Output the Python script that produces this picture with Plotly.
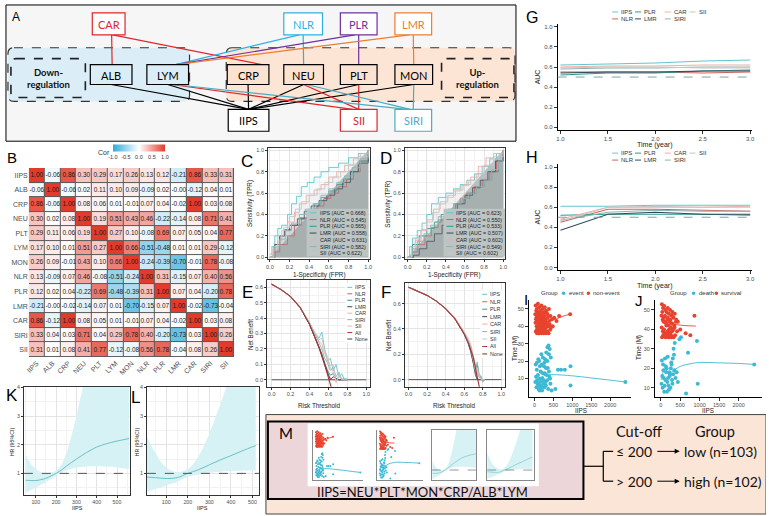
import plotly.graph_objects as go

W, H = 769, 516
FONT = "Liberation Sans"
DFONT = "Lato"

# ---------------- data ----------------
markers = ["IIPS", "ALB", "CRP", "NEU", "PLT", "LYM", "MON", "NLR", "PLR", "LMR", "CAR", "SIRI", "SII"]
cor = [
    [1.00, -0.06, 0.86, 0.30, 0.29, 0.17, 0.26, 0.13, 0.12, -0.21, 0.86, 0.33, 0.31],
    [-0.06, 1.00, -0.06, 0.02, 0.11, 0.10, 0.09, -0.09, 0.02, -0.00, -0.12, 0.04, 0.01],
    [0.86, -0.06, 1.00, 0.08, 0.06, 0.01, -0.01, 0.07, 0.04, -0.02, 1.00, 0.03, 0.08],
    [0.30, 0.02, 0.08, 1.00, 0.19, 0.51, 0.43, 0.46, -0.22, -0.14, 0.08, 0.71, 0.41],
    [0.29, 0.11, 0.06, 0.19, 1.00, 0.27, 0.10, -0.08, 0.69, 0.07, 0.05, 0.04, 0.77],
    [0.17, 0.10, 0.01, 0.51, 0.27, 1.00, 0.66, -0.51, -0.48, 0.01, 0.01, 0.29, -0.12],
    [0.26, 0.09, -0.01, 0.43, 0.10, 0.66, 1.00, -0.24, -0.39, -0.70, -0.01, 0.78, -0.08],
    [0.13, -0.09, 0.07, 0.46, -0.08, -0.51, -0.24, 1.00, 0.31, -0.15, 0.07, 0.40, 0.56],
    [0.12, 0.02, 0.04, -0.22, 0.69, -0.48, -0.39, 0.31, 1.00, 0.07, 0.04, -0.20, 0.78],
    [-0.21, -0.00, -0.02, -0.14, 0.07, 0.01, -0.70, -0.15, 0.07, 1.00, -0.02, -0.73, -0.04],
    [0.86, -0.12, 1.00, 0.08, 0.05, 0.01, -0.01, 0.07, 0.04, -0.02, 1.00, 0.03, 0.08],
    [0.33, 0.04, 0.03, 0.71, 0.04, 0.29, 0.78, 0.40, -0.20, -0.73, 0.03, 1.00, 0.26],
    [0.31, 0.01, 0.08, 0.41, 0.77, -0.12, -0.08, 0.56, 0.78, -0.04, 0.08, 0.26, 1.00],
]

models = ["IIPS", "NLR", "PLR", "LMR", "CAR", "SIRI", "SII"]
model_colors = ["#63c6cf", "#d25f5f", "#2b9a8c", "#34495a", "#f0aea5", "#8db4b1", "#c6c6c6"]
auc_c = ["0.668", "0.545", "0.565", "0.558", "0.631", "0.582", "0.622"]
auc_d = ["0.623", "0.550", "0.533", "0.507", "0.602", "0.549", "0.602"]

roc_c_fpr = [
    [0, 0.02, 0.05, 0.08, 0.12, 0.18, 0.22, 0.27, 0.32, 0.38, 0.45, 0.52, 0.6, 0.7, 0.8, 0.9, 1],
    [0, 0.05, 0.1, 0.18, 0.25, 0.32, 0.4, 0.48, 0.55, 0.62, 0.7, 0.78, 0.85, 0.92, 1],
    [0, 0.04, 0.1, 0.15, 0.22, 0.3, 0.38, 0.45, 0.52, 0.6, 0.68, 0.75, 0.82, 0.9, 1],
    [0, 0.05, 0.1, 0.15, 0.2, 0.28, 0.35, 0.42, 0.5, 0.58, 0.66, 0.74, 0.82, 0.9, 1],
    [0, 0.03, 0.08, 0.12, 0.18, 0.25, 0.3, 0.37, 0.45, 0.52, 0.6, 0.68, 0.76, 0.85, 0.92, 1],
    [0, 0.05, 0.1, 0.16, 0.22, 0.3, 0.36, 0.44, 0.52, 0.6, 0.68, 0.76, 0.84, 0.92, 1],
    [0, 0.04, 0.08, 0.14, 0.2, 0.26, 0.32, 0.4, 0.48, 0.56, 0.64, 0.72, 0.8, 0.9, 1],
]
roc_c_tpr = [
    [0.03, 0.1, 0.2, 0.27, 0.3, 0.4, 0.5, 0.57, 0.66, 0.7, 0.75, 0.8, 0.84, 0.88, 0.93, 0.97, 1],
    [0, 0.05, 0.12, 0.2, 0.3, 0.36, 0.42, 0.48, 0.55, 0.6, 0.66, 0.73, 0.8, 0.9, 1],
    [0, 0.1, 0.2, 0.26, 0.3, 0.37, 0.44, 0.5, 0.56, 0.62, 0.68, 0.73, 0.8, 0.9, 1],
    [0, 0.12, 0.2, 0.25, 0.3, 0.36, 0.43, 0.48, 0.53, 0.58, 0.64, 0.7, 0.8, 0.88, 1],
    [0, 0.08, 0.15, 0.25, 0.33, 0.42, 0.5, 0.58, 0.63, 0.68, 0.75, 0.8, 0.86, 0.92, 0.97, 1],
    [0, 0.1, 0.17, 0.25, 0.32, 0.4, 0.45, 0.5, 0.58, 0.64, 0.7, 0.76, 0.84, 0.92, 1],
    [0, 0.1, 0.2, 0.28, 0.38, 0.45, 0.52, 0.58, 0.64, 0.7, 0.75, 0.8, 0.87, 0.94, 1],
]
roc_d_fpr = [
    [0, 0.02, 0.05, 0.1, 0.15, 0.2, 0.25, 0.32, 0.4, 0.48, 0.55, 0.62, 0.7, 0.78, 0.86, 0.93, 1],
    [0, 0.05, 0.1, 0.18, 0.25, 0.32, 0.4, 0.48, 0.55, 0.62, 0.7, 0.78, 0.86, 0.93, 1],
    [0, 0.05, 0.12, 0.2, 0.28, 0.35, 0.42, 0.5, 0.58, 0.65, 0.72, 0.8, 0.88, 0.95, 1],
    [0, 0.06, 0.12, 0.2, 0.28, 0.36, 0.44, 0.52, 0.6, 0.68, 0.76, 0.84, 0.92, 1],
    [0, 0.04, 0.08, 0.14, 0.2, 0.27, 0.34, 0.42, 0.5, 0.58, 0.66, 0.74, 0.82, 0.9, 1],
    [0, 0.05, 0.1, 0.17, 0.24, 0.32, 0.4, 0.48, 0.56, 0.64, 0.72, 0.8, 0.88, 0.95, 1],
    [0, 0.04, 0.08, 0.14, 0.2, 0.26, 0.33, 0.4, 0.48, 0.56, 0.64, 0.72, 0.8, 0.9, 1],
]
roc_d_tpr = [
    [0, 0.1, 0.18, 0.25, 0.32, 0.4, 0.5, 0.56, 0.6, 0.64, 0.68, 0.72, 0.78, 0.85, 0.92, 0.97, 1],
    [0, 0.05, 0.12, 0.2, 0.28, 0.35, 0.42, 0.5, 0.55, 0.6, 0.66, 0.72, 0.8, 0.9, 1],
    [0, 0.12, 0.2, 0.27, 0.33, 0.4, 0.45, 0.5, 0.55, 0.6, 0.66, 0.72, 0.8, 0.9, 1],
    [0, 0.02, 0.08, 0.15, 0.22, 0.3, 0.4, 0.5, 0.58, 0.65, 0.72, 0.8, 0.9, 1],
    [0, 0.08, 0.16, 0.25, 0.35, 0.45, 0.52, 0.58, 0.63, 0.68, 0.75, 0.85, 0.93, 0.97, 1],
    [0, 0.08, 0.15, 0.22, 0.3, 0.38, 0.44, 0.5, 0.55, 0.6, 0.66, 0.72, 0.82, 0.9, 1],
    [0, 0.1, 0.18, 0.26, 0.33, 0.42, 0.5, 0.56, 0.62, 0.67, 0.72, 0.78, 0.86, 0.94, 1],
]
diag = [0, 1]

# decision curves
e_t = [0, 0.1, 0.2, 0.3, 0.4, 0.45, 0.5, 0.53, 0.56, 0.59, 0.62, 0.65, 0.68, 0.71, 0.74, 0.77, 0.8]
e_nb = [
    [0.62, 0.585, 0.54, 0.47, 0.37, 0.31, 0.27, 0.31, 0.20, 0.12, 0.14, 0.06, 0.10, 0.02, 0.04, 0.00, 0.01],
    [0.62, 0.585, 0.54, 0.47, 0.36, 0.29, 0.21, 0.15, 0.09, 0.04, 0.01, 0.00, 0.00, 0.00, 0.00, 0.00, 0.00],
    [0.62, 0.585, 0.54, 0.47, 0.36, 0.29, 0.22, 0.17, 0.11, 0.06, 0.03, 0.04, 0.01, 0.00, 0.00, 0.00, 0.00],
    [0.62, 0.585, 0.54, 0.47, 0.36, 0.29, 0.21, 0.16, 0.10, 0.05, 0.00, 0.02, 0.01, 0.00, 0.00, 0.00, 0.00],
    [0.62, 0.585, 0.54, 0.47, 0.37, 0.31, 0.25, 0.23, 0.17, 0.13, 0.08, 0.05, -0.01, 0.02, 0.01, 0.00, 0.00],
    [0.62, 0.585, 0.54, 0.47, 0.37, 0.30, 0.24, 0.20, 0.14, 0.11, 0.06, 0.08, 0.02, 0.05, 0.00, 0.01, 0.00],
    [0.62, 0.585, 0.54, 0.47, 0.37, 0.31, 0.26, 0.27, 0.19, 0.15, 0.09, 0.10, -0.02, 0.03, 0.00, 0.00, 0.00],
]
e_all_t = [0, 0.1, 0.2, 0.3, 0.4, 0.45, 0.5, 0.55, 0.6, 0.63]
e_all_nb = [0.62, 0.585, 0.54, 0.47, 0.36, 0.29, 0.21, 0.12, 0.02, -0.05]

f_t = [0, 0.1, 0.2, 0.3, 0.4, 0.5, 0.6, 0.64, 0.67, 0.7, 0.72, 0.74, 0.76, 0.78, 0.8, 0.82]
f_nb = [
    [0.73, 0.70, 0.665, 0.62, 0.56, 0.48, 0.37, 0.31, 0.26, 0.16, 0.10, 0.06, 0.02, 0.03, -0.01, 0.00],
    [0.73, 0.70, 0.665, 0.62, 0.56, 0.48, 0.36, 0.30, 0.23, 0.13, 0.06, 0.01, 0.00, 0.00, 0.00, 0.00],
    [0.73, 0.70, 0.665, 0.62, 0.56, 0.48, 0.36, 0.30, 0.24, 0.15, 0.08, 0.12, 0.03, 0.01, 0.00, 0.00],
    [0.73, 0.70, 0.665, 0.62, 0.56, 0.48, 0.36, 0.29, 0.22, 0.12, 0.04, 0.00, 0.00, 0.00, 0.00, 0.00],
    [0.73, 0.70, 0.665, 0.62, 0.56, 0.49, 0.38, 0.33, 0.28, 0.19, 0.12, 0.05, 0.02, 0.00, 0.00, 0.00],
    [0.73, 0.70, 0.665, 0.62, 0.56, 0.48, 0.37, 0.31, 0.25, 0.16, 0.09, 0.14, 0.05, 0.02, -0.02, 0.00],
    [0.73, 0.70, 0.665, 0.62, 0.56, 0.48, 0.37, 0.30, 0.25, 0.15, 0.07, 0.09, 0.03, 0.01, 0.00, 0.00],
]
f_all_t = [0, 0.1, 0.2, 0.3, 0.4, 0.5, 0.6, 0.65, 0.7, 0.74, 0.77]
f_all_nb = [0.73, 0.70, 0.665, 0.62, 0.56, 0.48, 0.36, 0.28, 0.17, 0.02, -0.08]
none_t = [0.0, 1.0]
none_nb = [0.0, 0.0]
all_color, none_color = "#a83232", "#444444"

# time-dependent AUC
years = [1.0, 1.5, 2.0, 2.5, 3.0]
g_auc = [
    [0.62, 0.63, 0.64, 0.66, 0.67],
    [0.55, 0.55, 0.55, 0.54, 0.55],
    [0.52, 0.54, 0.54, 0.56, 0.57],
    [0.54, 0.55, 0.55, 0.56, 0.56],
    [0.60, 0.61, 0.61, 0.62, 0.62],
    [0.58, 0.59, 0.59, 0.60, 0.60],
    [0.59, 0.60, 0.60, 0.59, 0.59],
]
h_auc = [
    [0.61, 0.61, 0.62, 0.62, 0.62],
    [0.45, 0.58, 0.58, 0.57, 0.56],
    [0.52, 0.53, 0.53, 0.53, 0.52],
    [0.37, 0.53, 0.55, 0.53, 0.53],
    [0.48, 0.60, 0.60, 0.60, 0.61],
    [0.47, 0.55, 0.57, 0.56, 0.56],
    [0.46, 0.60, 0.61, 0.60, 0.60],
]

# scatter of IIPS vs follow-up time
i_nonevent_x = [30, 60, 90, 120, 150, 180, 210, 240, 270, 300, 340, 380, 420, 460, 520, 580, 650, 940,
                20, 50, 80, 110, 140, 170, 200, 230, 260, 290, 320, 350, 390,
                25, 55, 85, 115, 145, 175, 205, 235, 265, 295, 330, 360, 410,
                35, 65, 95, 125, 155, 185, 215, 245, 275, 305,
                40, 70, 100, 130, 160, 190, 220, 250, 280, 310,
                45, 75, 105, 135, 165, 195, 225, 255, 285, 315, 345, 370, 400, 430, 480, 60, 100, 140, 180]
i_nonevent_y = [52, 50, 53, 51, 49, 52, 50, 48, 51, 49, 47, 50, 46, 44, 45, 43, 46, 47,
                47, 45, 48, 46, 44, 47, 45, 43, 46, 44, 42, 45, 43,
                42, 40, 43, 41, 39, 42, 40, 38, 41, 39, 37, 40, 38,
                37, 36, 38, 36, 37, 36, 37, 36, 38, 36,
                44, 42, 40, 38, 45, 43, 41, 39, 42, 40,
                49, 47, 44, 48, 42, 38, 46, 44, 37, 48, 41, 36, 41, 39, 40, 38, 36, 41, 39]
i_event_x = [30, 60, 90, 120, 150, 180, 210, 240, 270, 300, 330, 360, 390, 420, 450,
             20, 50, 80, 110, 140, 170, 200, 230, 260, 290, 320, 350, 380, 410,
             40, 70, 100, 130, 160, 190, 220, 250, 280, 310, 340, 370, 400, 430,
             60, 100, 140, 180, 220, 260, 300, 340, 380,
             550, 620, 700, 800, 950, 950, 2400]
i_event_y = [18, 15, 12, 20, 8, 5, 10, 7, 13, 6, 9, 4, 11, 7, 3,
             8, 5, 7, 4, 10, 6, 3, 9, 5, 8, 12, 16, 14, 10,
             11, 9, 6, 3, 14, 18, 22, 17, 21, 25, 28, 29, 27, 22,
             19, 21, 17, 24, 13, 19, 16, 20, 24,
             4, 15, 15, 15, 6, 17, 8]
i_nonevent_fit_x = [30, 150, 300, 450, 600, 750, 940]
i_nonevent_fit_y = [45, 44, 43, 43.5, 44.5, 45.8, 47]
i_event_fit_x = [20, 100, 200, 300, 500, 1000, 1500, 2000, 2400]
i_event_fit_y = [9, 10, 11, 12, 12.2, 11.5, 10.3, 9, 8]

j_survival_x = [30, 60, 90, 120, 150, 180, 210, 240, 270, 300, 330, 360, 400, 440, 500, 640, 760, 865,
                20, 50, 80, 110, 140, 170, 200, 230, 260, 290, 320, 350,
                25, 55, 85, 115, 145, 175, 205, 235, 265, 295, 330, 370,
                35, 65, 95, 125, 155, 185, 215, 245, 275,
                40, 75, 110, 145, 180, 215, 250, 285, 320, 355, 390, 420]
j_survival_y = [53, 51, 52, 50, 49, 51, 48, 50, 47, 49, 46, 48, 45, 44, 40, 38, 37, 47,
                47, 45, 46, 44, 43, 45, 42, 44, 41, 43, 40, 42,
                41, 39, 40, 38, 37, 39, 36, 38, 37, 39, 36, 37,
                36, 37, 38, 36, 37, 38, 36, 37, 36,
                49, 44, 47, 42, 46, 40, 45, 43, 48, 41, 44, 39]
j_death_x = [20, 50, 80, 110, 140, 170, 200, 230, 260, 290, 320, 350, 380, 410, 440,
             30, 60, 90, 120, 150, 180, 210, 240, 270, 300, 330, 360,
             40, 70, 100, 130, 160, 190, 220, 250, 280, 310, 340,
             480, 520, 650, 700, 930, 950, 2400]
j_death_y = [12, 10, 15, 25, 18, 13, 11, 16, 20, 14, 17, 19, 15, 18, 13,
             24, 22, 8, 14, 20, 26, 9, 17, 23, 12, 30, 33,
             16, 19, 11, 21, 8, 15, 18, 10, 22, 25, 27,
             35, 36, 7, 28, 34, 12, 22]
j_survival_fit_x = [20, 200, 400, 600, 800, 900]
j_survival_fit_y = [45, 43.5, 42.5, 42, 41.8, 41.7]
j_death_fit_x = [10, 60, 120, 200, 300, 500, 800, 1000, 1500, 2000, 2400]
j_death_fit_y = [14, 18, 20, 17, 18.5, 21, 22.5, 23, 22.8, 22.5, 22]
iips_ticks = [0, 500, 1000, 1500, 2000]
time_ticks = [10, 20, 30, 40, 50]
red_pt, cyan_pt = "#e8432e", "#3dbad3"

# restricted cubic spline HR
k_x = [50, 75, 100, 125, 150, 175, 200, 225, 250, 275, 300, 325, 350, 375, 400, 450, 500, 560]
k_hr = [0.76, 0.75, 0.75, 0.78, 0.83, 0.91, 1.0, 1.11, 1.25, 1.38, 1.5, 1.62, 1.73, 1.83, 1.92, 2.04, 2.13, 2.22]
k_lo = [0.32, 0.42, 0.5, 0.6, 0.7, 0.8, 0.92, 1.02, 1.1, 1.16, 1.2, 1.22, 1.24, 1.25, 1.25, 1.24, 1.21, 1.15]
k_hi = [1.65, 1.35, 1.15, 1.05, 1.0, 1.03, 1.1, 1.3, 1.7, 2.3, 3.0, 3.8, 4.5, 5.2, 5.8, 6.6, 7.3, 8.0]
l_x = [10, 50, 100, 150, 200, 250, 300, 350, 400, 450, 500, 515]
l_hr = [0.87, 0.85, 0.82, 0.85, 1.0, 1.13, 1.3, 1.47, 1.62, 1.78, 1.93, 1.97]
l_lo = [0.35, 0.45, 0.58, 0.7, 0.88, 0.96, 1.02, 1.06, 1.08, 1.1, 1.1, 1.1]
l_hi = [2.3, 1.7, 1.2, 1.05, 1.15, 1.6, 2.4, 3.4, 4.5, 5.5, 6.5, 7.0]
hr_line, hr_band = "#6cbfc6", "#d6f2f5"

fig = go.Figure()


def xdom(a, b):
    return [a / W, b / W]


def ydom(top, bottom):
    return [1 - bottom / H, 1 - top / H]


def rgba(hexc, a):
    h = hexc.lstrip("#")
    return f"rgba({int(h[0:2], 16)},{int(h[2:4], 16)},{int(h[4:6], 16)},{a})"


def text(s, x, y, size=7, color="#222222", angle=0, anchor="center", family=FONT):
    fig.add_annotation(x=x, y=y, xref="x", yref="y", text=s, showarrow=False, textangle=angle,
                       xanchor=anchor, yanchor="middle", borderpad=0,
                       font=dict(size=size, color=color, family=family))


def line(x0, y0, x1, y1, color="#000000", width=1.0, dash=None, layer="above"):
    fig.add_shape(type="line", xref="x", yref="y", x0=x0, y0=y0, x1=x1, y1=y1,
                  line=dict(color=color, width=width, dash=dash), layer=layer)


def rect(x0, y0, x1, y1, fill="rgba(0,0,0,0)", color="#000000", width=1.0, dash=None, layer="above"):
    fig.add_shape(type="rect", xref="x", yref="y", x0=x0, y0=y0, x1=x1, y1=y1, fillcolor=fill,
                  line=dict(color=color, width=width, dash=dash), layer=layer)


def rrect(x0, y0, x1, y1, r, fill, color, width=1.2, dash="dash"):
    p = (f"M {x0 + r},{y0} L {x1 - r},{y0} Q {x1},{y0} {x1},{y0 + r} L {x1},{y1 - r} "
         f"Q {x1},{y1} {x1 - r},{y1} L {x0 + r},{y1} Q {x0},{y1} {x0},{y1 - r} "
         f"L {x0},{y0 + r} Q {x0},{y0} {x0 + r},{y0} Z")
    fig.add_shape(type="path", xref="x", yref="y", path=p, fillcolor=fill,
                  line=dict(color=color, width=width, dash=dash))


def set_axes(n, xd, yd, xr, yr, style="bw", xdt=None, ydt=None, xfmt=None, yfmt=None,
             tsize=6, xvals=None, yvals=None):
    common = dict(fixedrange=True, zeroline=False, ticks="outside", ticklen=2, tickcolor="#333333",
                  tickfont=dict(size=tsize, color="#4d4d4d", family=FONT), showline=True,
                  linewidth=0.7)
    if style == "bw":
        common.update(showgrid=True, gridcolor="#e4e4e4", gridwidth=0.6, mirror=True, linecolor="#333333")
    elif style == "classic":
        common.update(showgrid=False, linecolor="#000000", mirror=False, ticklen=3)
    else:
        common = dict(fixedrange=True, zeroline=False, showgrid=False, showticklabels=False, ticks="",
                      showline=True, linecolor="#888888", linewidth=0.5, mirror=(style == "thumbbox"))
    xa = dict(common, domain=xd, range=xr, anchor=f"y{n}")
    ya = dict(common, domain=yd, range=yr, anchor=f"x{n}")
    if xdt:
        xa["dtick"] = xdt
        if style == "bw":
            xa["minor"] = dict(showgrid=True, gridcolor="#f2f2f2", gridwidth=0.5, dtick=xdt / 2)
    if ydt:
        ya["dtick"] = ydt
        if style == "bw":
            ya["minor"] = dict(showgrid=True, gridcolor="#f2f2f2", gridwidth=0.5, dtick=ydt / 2)
    if xfmt:
        xa["tickformat"] = xfmt
    if yfmt:
        ya["tickformat"] = yfmt
    if xvals:
        xa["tickvals"] = xvals
    if yvals:
        ya["tickvals"] = yvals
    fig.update_layout(**{f"xaxis{n}": xa, f"yaxis{n}": ya})


def on(n):
    return dict(xaxis=f"x{n}", yaxis=f"y{n}", showlegend=False, hoverinfo="skip")


# overlay axes in pixel units (for diagram, labels, hand-made legends)
fig.add_trace(go.Scatter(x=[], y=[], xaxis="x", yaxis="y", showlegend=False))
fig.update_layout(xaxis=dict(domain=[0, 1], range=[0, W], visible=False, fixedrange=True),
                  yaxis=dict(domain=[0, 1], range=[H, 0], visible=False, fixedrange=True))

# ---------------- A: diagram ----------------
rect(3, 3, 517, 140, fill="#f6f6f6", color="#000000", width=1)
rrect(5, 46, 188, 100, 6, "#dbeef8", "#333333")
rrect(225, 46, 516, 100, 6, "#fde5d5", "#333333")
rrect(8, 57, 83, 96, 5, "rgba(0,0,0,0)", "#222222", width=1.6)
rrect(442, 57, 515, 96, 5, "rgba(0,0,0,0)", "#222222", width=1.6)

nodes = {
    "CAR": (90, 11, 123, 33, "#e0262b", "#ffffff"),
    "NLR": (283, 11, 322, 33, "#2bb2e3", "#ffffff"),
    "PLR": (340, 11, 377, 33, "#7030a0", "#ffffff"),
    "LMR": (395, 11, 432, 33, "#ed7d31", "#ffffff"),
    "ALB": (88, 63, 130, 83, "#000000", "#dbeef8"),
    "LYM": (145, 63, 187, 83, "#000000", "#dbeef8"),
    "CRP": (226, 63, 268, 83, "#000000", "#fce2d1"),
    "NEU": (283, 63, 323, 83, "#000000", "#fce2d1"),
    "PLT": (340, 63, 377, 83, "#000000", "#fce2d1"),
    "MON": (395, 63, 433, 83, "#000000", "#fce2d1"),
    "IIPS": (227, 108, 268, 130, "#000000", "#ffffff"),
    "SII": (340, 108, 377, 130, "#e0262b", "#ffffff"),
    "SIRI": (395, 108, 432, 130, "#4aacc6", "#ffffff"),
}


def top(n, dx=0):
    b = nodes[n]
    return ((b[0] + b[2]) / 2 + dx, b[1])


def bot(n, dx=0):
    b = nodes[n]
    return ((b[0] + b[2]) / 2 + dx, b[3])


edges = [
    (bot("CAR", 3), top("ALB", 1), "#e0262b"),
    (bot("CAR", 4), top("CRP", 14), "#e0262b"),
    (bot("NLR"), top("NEU"), "#2bb2e3"),
    (bot("NLR", -4), top("LYM", 8), "#2bb2e3"),
    (bot("PLR"), top("PLT"), "#7030a0"),
    (bot("PLR", -4), top("LYM", 8), "#7030a0"),
    (bot("LMR"), top("MON"), "#ed7d31"),
    (bot("LMR", -4), top("LYM", 8), "#ed7d31"),
    (bot("ALB"), top("IIPS"), "#000000"),
    (bot("LYM"), top("IIPS"), "#000000"),
    (bot("CRP"), top("IIPS"), "#000000"),
    (bot("NEU"), top("IIPS"), "#000000"),
    (bot("PLT"), top("IIPS"), "#000000"),
    (bot("MON"), top("IIPS"), "#000000"),
    (bot("LYM", 4), top("SII", -6), "#e0262b"),
    (bot("NEU"), top("SII"), "#e0262b"),
    (bot("PLT"), top("SII"), "#e0262b"),
    (bot("LYM", 6), top("SIRI", -6), "#4aacc6"),
    (bot("NEU", 3), top("SIRI", -3), "#4aacc6"),
    (bot("MON"), top("SIRI"), "#4aacc6"),
]
for (a, b, c) in edges:
    line(a[0], a[1], b[0], b[1], color=c, width=1.2)
for name, (x0, y0, x1, y1, c, f) in nodes.items():
    rect(x0, y0, x1, y1, fill=f, color=c, width=1.2)
    text(name, (x0 + x1) / 2, (y0 + y1) / 2 + 0.5, size=11, color=c, family=DFONT)
text("<b>Down-<br>regulation</b>", 45.5, 76.5, size=9.5, color="#111111", family=DFONT)
text("<b>Up-<br>regulation</b>", 478.5, 76.5, size=9.5, color="#111111", family=DFONT)
text("A", 13, 15, size=12, color="#000000")

# ---------------- B: correlation heatmap ----------------
idx = list(range(len(markers)))
fig.add_shape(type="rect", xref="x2", yref="y2", x0=-0.5, x1=12.5, y0=-0.5, y1=12.5,
              fillcolor="#5a5a5a", line=dict(width=0), layer="below")
fig.add_trace(go.Heatmap(
    z=cor, x=idx, y=idx, text=[[f"{v:.2f}" for v in row] for row in cor], texttemplate="%{text}",
    textfont=dict(size=6.5, color="#1a1a1a", family=FONT),
    colorscale=[[0, "#2eaad8"], [0.5, "#ffffff"], [1, "#e33b2b"]], zmin=-1, zmax=1,
    xgap=1, ygap=1, xaxis="x2", yaxis="y2", hoverinfo="skip",
    colorbar=dict(orientation="h", x=137 / W, xanchor="center", y=1 - 150 / H, yanchor="middle",
                  len=52, lenmode="pixels", thickness=7, outlinewidth=0, xpad=0, ypad=0,
                  tickvals=[-1, -0.5, 0, 0.5, 1], ticktext=["-1.0", "-0.5", "0.0", "0.5", "1.0"],
                  tickangle=0, tickfont=dict(size=5.5, color="#333333", family=FONT), ticks="")))
heat_ax = dict(tickvals=idx, ticktext=markers, showgrid=False, zeroline=False, showline=False, ticks="",
               tickfont=dict(size=7, color="#4d4d4d", family=FONT), fixedrange=True)
fig.update_layout(xaxis2=dict(heat_ax, domain=xdom(26, 233), range=[-0.5, 12.5], anchor="y2", tickangle=-45),
                  yaxis2=dict(heat_ax, domain=ydom(167, 357), range=[12.5, -0.5], anchor="x2"))
text("Cor", 102, 151, size=7, color="#333333")
text("B", 9, 156, size=15, color="#000000")

# ---------------- C / D: ROC ----------------
for n, fprs, tprs, aucs, lx in ((3, roc_c_fpr, roc_c_tpr, auc_c, 306), (4, roc_d_fpr, roc_d_tpr, auc_d, 444)):
    fig.add_trace(go.Scatter(x=diag + [diag[1]], y=[diag[0], diag[0], diag[1]], fill="toself",
                             fillcolor="#b9c1c1", mode="lines", line=dict(width=0), **on(n)))
    for k, c in enumerate(model_colors):
        fig.add_trace(go.Scatter(x=fprs[k], y=tprs[k], mode="lines", line=dict(color=c, width=0.9, shape="hv"),
                                 fill="tozeroy", fillcolor=rgba(c, 0.07), **on(n)))
    rect(lx, 208, lx + 62, 256, fill="#bcc4c4", width=0)
    for k, (m, c) in enumerate(zip(models, model_colors)):
        y = 212 + k * 6.8
        line(lx + 3, y, lx + 10, y, color=c, width=1)
        text(f"{m} (AUC = {aucs[k]})", lx + 12, y, size=5.3, color="#222222", anchor="left")
set_axes(3, xdom(267, 370), ydom(147, 259), [-0.02, 1.02], [-0.02, 1.02], xdt=0.2, ydt=0.2, xfmt=".1f",
         yfmt=".1f", tsize=5.5)
set_axes(4, xdom(405, 506), ydom(147, 259), [-0.03, 1.02], [-0.02, 1.02], xdt=0.2, ydt=0.2, xfmt=".1f",
         yfmt=".1f", tsize=5.5)
for x, tx in ((249, 318), (388, 455)):
    text("Sensitivity (TPR)", x, 203, size=6.3, angle=-90)
    text("1-Specificity (FPR)", tx, 275, size=6.3)
text("C", 246, 160, size=17, color="#000000")
text("D", 386, 157, size=17, color="#000000")

# ---------------- E / F: decision curves ----------------
for n, ts, nbs, at, anb in ((5, e_t, e_nb, e_all_t, e_all_nb), (6, f_t, f_nb, f_all_t, f_all_nb)):
    fig.add_trace(go.Scatter(x=none_t, y=none_nb, mode="lines", line=dict(color=none_color, width=0.9), **on(n)))
    for k, c in enumerate(model_colors):
        fig.add_trace(go.Scatter(x=ts, y=nbs[k], mode="lines", line=dict(color=c, width=0.9), **on(n)))
    fig.add_trace(go.Scatter(x=at, y=anb, mode="lines", line=dict(color=all_color, width=1.1), **on(n)))
set_axes(5, xdom(266, 370), ydom(280, 387), [-0.05, 1.04], [-0.045, 0.645], xdt=0.2, ydt=0.1, xfmt=".1f",
         yfmt=".1f", tsize=5.5)
set_axes(6, xdom(405, 506), ydom(283, 387), [-0.04, 1.04], [-0.056, 0.76], xdt=0.2, ydt=0.2, xfmt=".1f",
         yfmt=".1f", tsize=5.5)
dca_names = models + ["All", "None"]
dca_colors = model_colors + [all_color, none_color]
for (bx, y0, dy) in ((345, 287, 6.5), (481, 294, 7.5)):
    rect(bx, y0 - 4, bx + 24, y0 + 8 * dy + 4, fill="#ffffff", width=0)
    for k, (m, c) in enumerate(zip(dca_names, dca_colors)):
        y = y0 + k * dy
        line(bx + 2, y, bx + 7, y, color=c, width=1)
        text(m, bx + 9, y, size=5.3, color="#333333", anchor="left")
for x, tx in ((249, 318), (388, 455)):
    text("Net Benefit", x, 335, size=6.3, angle=-90)
    text("Risk Threshold", tx, 406, size=6.3)
text("E", 246, 292, size=17, color="#000000")
text("F", 386, 292, size=17, color="#000000")

# ---------------- G / H: time-dependent AUC ----------------
for n, aucs, ly in ((7, g_auc, 10), (8, h_auc, 152)):
    for k, c in enumerate(model_colors):
        fig.add_trace(go.Scatter(x=years, y=aucs[k], mode="lines", line=dict(color=c, width=1.1), **on(n)))
    fig.add_shape(type="line", xref=f"x{n} domain", yref=f"y{n}", x0=0, x1=1, y0=0.5, y1=0.5,
                  line=dict(color="#6e9a9a", width=0.9, dash="dash"), layer="above")
    slots = [(614, 0), (637, 0), (667, 0), (692, 0), (614, 1), (637, 1), (667, 1)]
    order = [0, 2, 4, 6, 1, 3, 5]
    for (sx, row), k in zip(slots, order):
        y = ly + row * 7
        line(sx, y, sx + 6, y, color=model_colors[k], width=1)
        text(models[k], sx + 8, y, size=6, color="#333333", anchor="left")
set_axes(7, xdom(559, 755), ydom(22, 129), [0.97, 3.02], [-0.03, 1.03], style="classic", xdt=0.5, ydt=0.2,
         xfmt=".1f", yfmt=".1f")
set_axes(8, xdom(559, 755), ydom(163, 270), [0.97, 3.02], [-0.03, 1.03], style="classic", xdt=0.5, ydt=0.2,
         xfmt=".1f", yfmt=".1f")
text("AUC", 539, 75, size=7, angle=-90)
text("Time (year)", 657, 144, size=7)
text("AUC", 539, 216, size=7, angle=-90)
text("Time (year)", 657, 286, size=7)
text("G", 533, 16, size=16, color="#000000")
text("H", 533, 156, size=16, color="#000000")

# ---------------- I / J: scatter ----------------
for n, ex, ey, nx, ny, efx, efy, nfx, nfy, sz in (
        (9, i_event_x, i_event_y, i_nonevent_x, i_nonevent_y, i_event_fit_x, i_event_fit_y,
         i_nonevent_fit_x, i_nonevent_fit_y, 4),
        (10, j_death_x, j_death_y, j_survival_x, j_survival_y, j_death_fit_x, j_death_fit_y,
         j_survival_fit_x, j_survival_fit_y, 4),
        (13, i_event_x, i_event_y, i_nonevent_x, i_nonevent_y, i_event_fit_x, i_event_fit_y,
         i_nonevent_fit_x, i_nonevent_fit_y, 2),
        (14, j_death_x, j_death_y, j_survival_x, j_survival_y, j_death_fit_x, j_death_fit_y,
         j_survival_fit_x, j_survival_fit_y, 2)):
    fig.add_trace(go.Scatter(x=ex, y=ey, mode="markers", marker=dict(color=cyan_pt, size=sz, line=dict(width=0)), **on(n)))
    fig.add_trace(go.Scatter(x=nx, y=ny, mode="markers", marker=dict(color=red_pt, size=sz, line=dict(width=0)), **on(n)))
    fig.add_trace(go.Scatter(x=efx, y=efy, mode="lines", line=dict(color=cyan_pt, width=0.9, shape="spline"), **on(n)))
    fig.add_trace(go.Scatter(x=nfx, y=nfy, mode="lines", line=dict(color=red_pt, width=0.9, shape="spline"), **on(n)))
set_axes(9, xdom(530, 633), ydom(300, 397), [-150, 2550], [-0.5, 55], style="classic",
         xvals=iips_ticks, yvals=time_ticks, tsize=5.5)
set_axes(10, xdom(657, 765), ydom(300, 397), [-150, 2600], [5.4, 55], style="classic",
         xvals=iips_ticks, yvals=time_ticks, tsize=5.5)
set_axes(13, xdom(312, 363), ydom(430, 481), [-150, 2550], [-0.5, 55], style="thumb")
set_axes(14, xdom(377, 423), ydom(430, 481), [-150, 2600], [5.4, 55], style="thumb")
for gx, c1, l1, c2, l2 in ((551, 565, "event", 590, "non-event"), (681, 696, "death", 719, "survival")):
    text("Group", gx, 293, size=6, color="#333333")
    for cx, lab, col in ((c1, l1, cyan_pt), (c2, l2, red_pt)):
        fig.add_shape(type="circle", xref="x", yref="y", x0=cx - 1.8, x1=cx + 1.8, y0=293 - 1.8, y1=293 + 1.8,
                      fillcolor=col, line=dict(width=0))
        text(lab, cx + 4, 293, size=6, color="#333333", anchor="left")
text("Time (M)", 516, 348, size=6.3, angle=-90)
text("IIPS", 583, 411, size=6.3)
text("Time (M)", 641, 348, size=6.3, angle=-90)
text("IIPS", 711, 411, size=6.3)
text("I", 527, 299, size=15, color="#000000")
text("J", 641, 300, size=15, color="#000000")

# ---------------- K / L: HR splines ----------------
for n, xs, lo, hi, hr, w in ((11, k_x, k_lo, k_hi, k_hr, 1.0), (12, l_x, l_lo, l_hi, l_hr, 1.0),
                             (15, k_x, k_lo, k_hi, k_hr, 0.6), (16, l_x, l_lo, l_hi, l_hr, 0.6)):
    fig.add_trace(go.Scatter(x=xs, y=hi, mode="lines", line=dict(width=0, shape="spline"), **on(n)))
    fig.add_trace(go.Scatter(x=xs, y=lo, mode="lines", line=dict(width=0, shape="spline"), fill="tonexty",
                             fillcolor=hr_band, **on(n)))
    fig.add_trace(go.Scatter(x=xs, y=hr, mode="lines", line=dict(color=hr_line, width=w, shape="spline"), **on(n)))
    fig.add_shape(type="line", xref=f"x{n} domain", yref=f"y{n}", x0=0, x1=1, y0=1, y1=1,
                  line=dict(color="#555555", width=w, dash="dash"), layer="above")
set_axes(11, xdom(21, 128), ydom(387, 496), [41, 564], [0.24, 4.03], xdt=100, ydt=1, tsize=5.3)
set_axes(12, xdom(145, 258), ydom(387, 496), [10, 530], [0.24, 4.03], xdt=100, ydt=1, tsize=5.3)
set_axes(15, xdom(432, 477), ydom(430, 481), [41, 564], [0.24, 4.03], style="thumbbox")
set_axes(16, xdom(488, 535), ydom(430, 481), [10, 530], [0.24, 4.03], style="thumbbox")
text("HR (95%CI)", 9, 442, size=5.3, angle=-90)
text("IIPS", 75, 509, size=5.5)
text("HR (95%CI)", 135, 442, size=5.3, angle=-90)
text("IIPS", 201, 509, size=5.5)
text("K", 9, 396, size=17, color="#000000")
text("L", 134, 398, size=17, color="#000000")

# ---------------- M: summary ----------------
rect(265, 415, 769, 515, fill="#fbe5d6", color="#444444", width=1, layer="below")
rect(267, 422, 585, 500, fill="#ecd6d9", color="#000000", width=2, layer="below")
rect(307, 424, 540, 487, fill="#ffffff", width=0, layer="below")
text("M", 285, 434, size=15, color="#000000", family=DFONT)
text("IIPS=NEU*PLT*MON*CRP/ALB*LYM", 423, 493, size=13, color="#111111", family=DFONT)
line(585, 467, 605, 467, width=1.2)
line(605, 452, 605, 482, width=1.2)
line(605, 452, 615, 452, width=1.2)
line(605, 482, 615, 482, width=1.2)
text("Cut-off", 641, 432, size=14.5, color="#111111", family=DFONT)
text("Group", 718, 432, size=14.5, color="#111111", family=DFONT)
for y, cut, grp in ((452, "≤ 200", "low (n=103)"), (482, "> 200", "high (n=102)")):
    text(cut, 617, y, size=14, color="#111111", anchor="left", family=DFONT)
    fig.add_annotation(x=682, y=y, ax=658, ay=y, xref="x", yref="y", axref="x", ayref="y", text="",
                       showarrow=True, arrowhead=2, arrowsize=1, arrowwidth=1, arrowcolor="#000000")
    text(grp, 685, y, size=14, color="#111111", anchor="left", family=DFONT)

fig.update_layout(width=W, height=H, margin=dict(l=0, r=0, t=0, b=0), showlegend=False,
                  paper_bgcolor="#ffffff", plot_bgcolor="rgba(0,0,0,0)",
                  font=dict(family=FONT, size=7, color="#333333"))

# the page body has a default margin; remove it so the figure fills the window
fig.write_html("out.html", config={"displayModeBar": False},
               post_script="document.body.style.margin='0px';")
